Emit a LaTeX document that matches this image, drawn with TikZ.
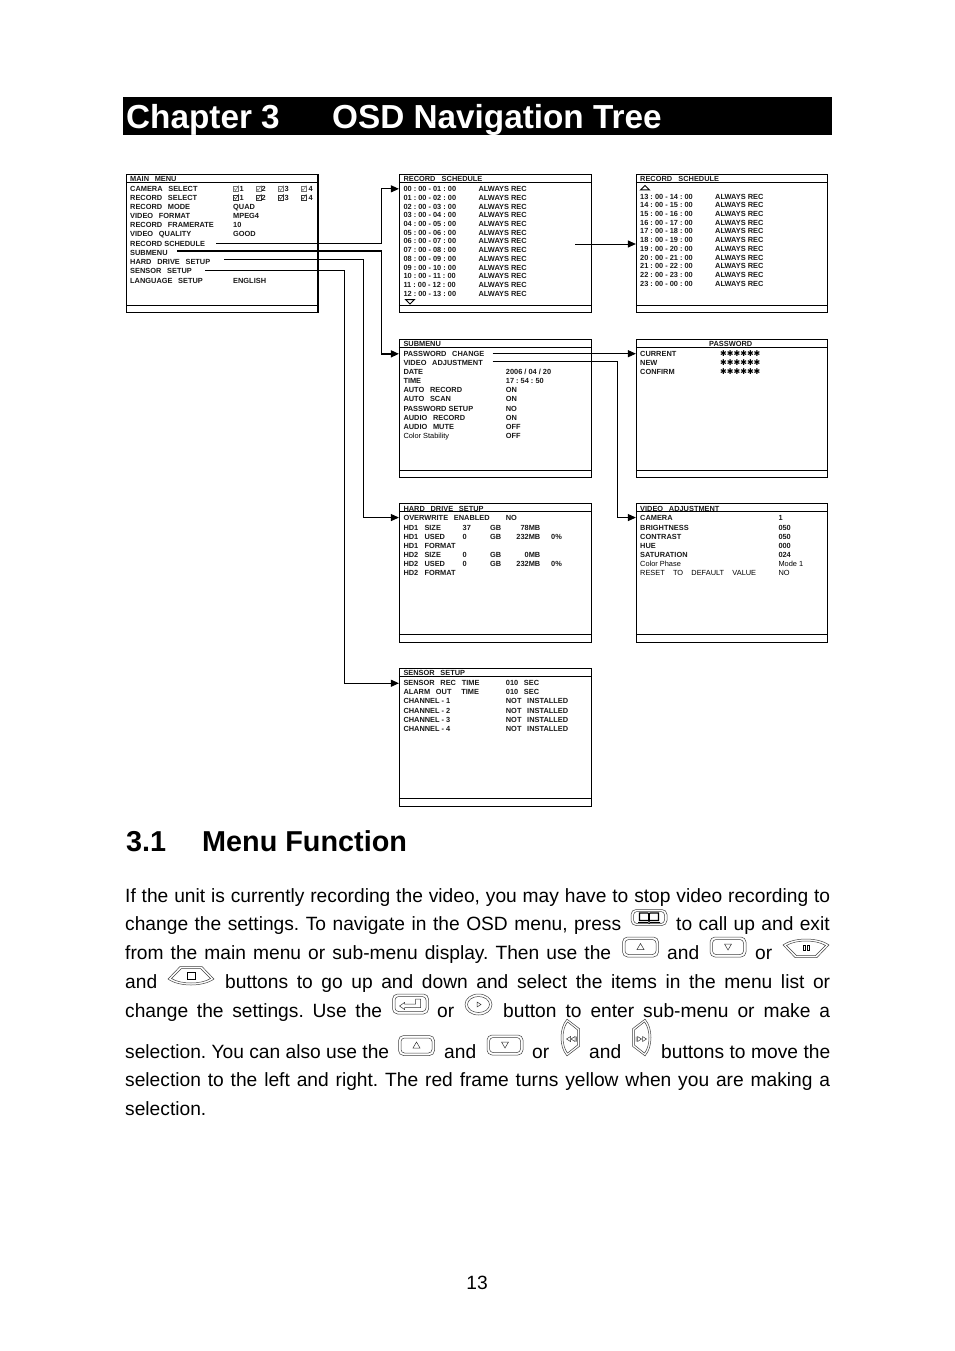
\documentclass[tikz,border=0pt]{standalone}
\usepackage{fontspec}
\setmainfont{Liberation Sans}
\newfontfamily\starfont{DejaVu Sans}
\usetikzlibrary{positioning, arrows.meta, calc}
\frenchspacing
\newcommand{\wgap}{\hspace{5.7pt}}
\tikzset{
  menubox/.style   = {rectangle, draw=black, line width=0.9pt, anchor=north west, inner sep=0pt,
                      minimum width=192pt, minimum height=138pt},
  menurule/.style  = {line width=0.9pt, draw=black},
  menutext/.style  = {anchor=base west, inner sep=0pt, font=\fontsize{7.4}{8}\selectfont\bfseries, text=black!90},
  menulight/.style = {anchor=base west, inner sep=0pt, font=\fontsize{7.4}{8}\selectfont, text=black},
  starrow/.style   = {anchor=base west, inner sep=0pt, font=\fontsize{8}{8}\selectfont\starfont},
  link/.style      = {line width=1pt, -{Triangle[length=8pt, width=7pt]}, draw=black},
  trunk/.style     = {line width=1.5pt, -{Triangle[length=8pt, width=7pt]}, draw=black},
  chapterbar/.style = {rectangle, fill=black, anchor=north west, inner sep=0pt,
                      minimum width=709pt, minimum height=38pt},
  chapterhead/.style = {anchor=base west, inner sep=0pt, text=white, font=\fontsize{33.3}{36}\selectfont\bfseries},
  sectionhead/.style = {anchor=base west, inner sep=0pt, font=\fontsize{28.8}{32}\selectfont\bfseries},
  bodyline/.style  = {anchor=base west, inner sep=0pt, font=\fontsize{19.2}{24}\selectfont},
  iconline/.style  = {draw=black!75, line width=0.5pt},
  glyph/.style     = {draw=black!80, line width=0.5pt},
  scrollmark/.style = {draw=black, line width=1pt},
  % key pictures
  keyframe/.pic    = {
    \draw[iconline, rounded corners=5pt] (-18,-10) rectangle (18,10);
    \draw[iconline, rounded corners=3.5pt] (-15.5,-7.5) rectangle (15.5,7.5);},
  keyup/.pic       = {\pic {keyframe}; \draw[glyph] (-3.5,2.5) -- (3.5,2.5) -- (0,-3.5) -- cycle;},
  keydown/.pic     = {\pic {keyframe}; \draw[glyph] (-3.5,-3) -- (3.5,-3) -- (0,3) -- cycle;},
  keybook/.pic     = {\pic[yscale=0.8] {keyframe};
    \draw[black, line width=1.1pt] (-9.5,-4.5) -- (-1,-4.5) -- (-0.3,-3.5) -- (-0.3,3.5) -- (-1,3) -- (-9.5,3) -- cycle;
    \draw[black, line width=1.1pt] (9.5,-4.5) -- (1,-4.5) -- (0.3,-3.5) -- (0.3,3.5) -- (1,3) -- (9.5,3) -- cycle;
    \draw[black, line width=0.7pt] (-11,5) -- (-1,5) -- (0,6) -- (1,5) -- (11,5);},
  keyenter/.pic    = {\pic {keyframe};
    \draw[glyph] (-11,2) -- (-6,-1.5) -- (-6,0) -- (5,0) -- (5,-5) -- (10,-5) -- (10,3.5) -- (-6,3.5) -- (-6,5.5) -- cycle;},
  keyround/.pic    = {
    \draw[iconline] (0,0) ellipse (13.5 and 10.5);
    \draw[iconline] (0,0) ellipse (11 and 8);
    \draw[glyph] (-1.5,-2.5) -- (2.5,0) -- (-1.5,2.5) -- cycle;},
  keywing/.pic     = {
    \draw[iconline] (-23,-3) .. controls (-12,-11) and (12,-11) .. (23,-3) -- (11,9.5) -- (-11,9.5) -- cycle;
    \draw[iconline] (-19.5,-2.5) .. controls (-10,-8.5) and (10,-8.5) .. (19.5,-2.5) -- (9.5,7.5) -- (-9.5,7.5) -- cycle;},
  tickbox/.pic     = {
    \draw[line width=0.45pt] (0,-2.5) rectangle (5,2.5);
    \draw[line width=0.5pt] (0.8,-0.2) -- (2,1.7) -- (5.4,-3.4);},
}
% menu row: name, x, row centre, text
\newcommand{\menurow}[5][menutext]{\node[#1] (#2) at (#3,#4+3.1) {#5};}
% body text piece: name, x, baseline, width, text
\newcommand{\bodypiece}[5]{\node[bodyline] (#1) at (#2,#3) {\hbox to #4pt{#5}};}

\begin{document}
\begin{tikzpicture}[x=1pt, y=-1pt]
\useasboundingbox (0,0) rectangle (954,1351);
\fill[white] (0,0) rectangle (954,1351);

% =============== CHAPTER BAR ===============
\node[chapterbar] (chapter) at (123,97) {};
\node[chapterhead] (chapternum) at (126,128.5) {Chapter 3};
\node[chapterhead] (chaptertitle) at (332,128.5) {OSD Navigation Tree};

% =============== MENU FRAMES ===============
\node[menubox, minimum width=191pt] (mainmenu) at (126.2,174.3) {};
\node[menubox] (schedone) at (398.9,174.3) {};
\node[menubox, minimum width=191pt] (schedtwo) at (635.9,174.3) {};
\node[menubox] (submenu) at (398.9,339.3) {};
\node[menubox, minimum width=191pt] (password) at (635.9,339.3) {};
\node[menubox, minimum height=138.5pt] (harddrive) at (398.9,503) {};
\node[menubox, minimum width=191pt, minimum height=138.5pt] (videoadj) at (635.9,503) {};
\node[menubox] (sensor) at (398.9,668) {};
\foreach \b in {mainmenu,schedone,schedtwo,submenu,password,harddrive,videoadj,sensor} {
  \draw[menurule] ([yshift=-8pt]\b.north west) -- ([yshift=-8pt]\b.north east);
  \draw[menurule] ([yshift=8pt]\b.south west) -- ([yshift=8pt]\b.south east);
}
\draw[line width=1.6pt] (mainmenu.north east) -- (mainmenu.south east);

% =============== MAIN MENU ===============
\menurow{maintitle}{130}{178.3}{MAIN\wgap MENU}
\foreach \y/\t [count=\n] in {188.3/CAMERA\wgap SELECT, 197/RECORD\wgap SELECT, 206/RECORD\wgap MODE, 215/VIDEO\wgap FORMAT,
  224.3/RECORD\wgap FRAMERATE, 233.3/VIDEO\wgap QUALITY, 243/RECORD SCHEDULE, 252/SUBMENU,
  261/HARD\wgap DRIVE\wgap SETUP, 270/SENSOR\wgap SETUP, 280.3/LANGUAGE\wgap SETUP} {
  \menurow{mainrow\n}{130}{\y}{\t}
}
\foreach \y/\t [count=\n] in {206/QUAD, 215/MPEG4, 224.3/10, 233.3/GOOD, 280.3/ENGLISH} {
  \menurow{mainval\n}{233}{\y}{\t}
}
\foreach \x/\d/\t [count=\n] in {233.5/239.5/1, 256/261.5/2, 278.5/284.5/3, 301/308.5/4} {
  \pic[draw=black!55] at (\x,188.8) {tickbox};
  \menurow{camtick\n}{\d}{188.3}{\t}
  \pic[draw=black!80] at (\x,197.5) {tickbox};
  \menurow{rectick\n}{\d}{197}{\t}
}

% =============== RECORD SCHEDULE, FIRST PAGE ===============
\menurow{schedonetitle}{403.3}{178}{RECORD~~~SCHEDULE}
\foreach \y/\t [count=\n] in {188.3/00 : 00 - 01 : 00, 197.3/01 : 00 - 02 : 00, 206/02 : 00 - 03 : 00,
  214/03 : 00 - 04 : 00, 223.3/04 : 00 - 05 : 00, 232/05 : 00 - 06 : 00, 240.7/06 : 00 - 07 : 00,
  249.3/07 : 00 - 08 : 00, 258.3/08 : 00 - 09 : 00, 267/09 : 00 - 10 : 00, 275.3/10 : 00 - 11 : 00,
  284/11 : 00 - 12 : 00, 293/12 : 00 - 13 : 00} {
  \menurow{schedonetime\n}{403.3}{\y}{\t}
  \menurow{schedonerec\n}{478.3}{\y}{ALWAYS REC}
}
\draw[scrollmark] (405.5,299.5) -- (414.5,299.5) -- (410,304) -- cycle;

% =============== RECORD SCHEDULE, SECOND PAGE ===============
\menurow{schedtwotitle}{640}{178}{RECORD~~~SCHEDULE}
\draw[scrollmark] (640.5,190) -- (649.5,190) -- (645,185.5) -- cycle;
\foreach \y/\t [count=\n] in {196/13 : 00 - 14 : 00, 204.3/14 : 00 - 15 : 00, 213.3/15 : 00 - 16 : 00,
  222.3/16 : 00 - 17 : 00, 230.3/17 : 00 - 18 : 00, 239.3/18 : 00 - 19 : 00, 248.3/19 : 00 - 20 : 00,
  257.3/20 : 00 - 21 : 00, 265.3/21 : 00 - 22 : 00, 274/22 : 00 - 23 : 00, 283/23 : 00 - 00 : 00} {
  \menurow{schedtwotime\n}{640}{\y}{\t}
  \menurow{schedtworec\n}{715}{\y}{ALWAYS REC}
}

% =============== SUBMENU ===============
\menurow{subtitle}{403.3}{343}{SUBMENU}
\foreach \y/\t [count=\n] in {353.3/PASSWORD\wgap CHANGE, 362.3/VIDEO\wgap ADJUSTMENT, 371.3/DATE, 380.3/TIME,
  389.3/AUTO\wgap RECORD, 398.3/AUTO\wgap SCAN, 408/PASSWORD SETUP, 417/AUDIO\wgap RECORD, 426.3/AUDIO\wgap MUTE} {
  \menurow{subrow\n}{403.3}{\y}{\t}
}
\menurow[menulight]{subrow10}{403.3}{435.7}{Color Stability}
\foreach \y/\t [count=\n] in {371.3/{2006 / 04 / 20}, 380.3/17 : 54 : 50, 389.3/ON, 398.3/ON, 408/NO,
  417/ON, 426.3/OFF, 435.7/OFF} {
  \menurow{subval\n}{505.7}{\y}{\t}
}

% =============== PASSWORD ===============
\node[menutext, anchor=base] (passtitle) at (730.7,346) {PASSWORD};
\foreach \y/\t [count=\n] in {353.3/CURRENT, 362.3/NEW, 371.3/CONFIRM} {
  \menurow{passrow\n}{640}{\y}{\t}
  \menurow[starrow]{passval\n}{720}{\y+0.5}{✱✱✱✱✱✱}
}

% =============== HARD DRIVE SETUP ===============
\menurow{hardtitle}{403.3}{508}{HARD\wgap DRIVE\wgap SETUP}
\menurow{overwrite}{403.3}{517}{OVERWRITE\wgap ENABLED}
\menurow{overwriteval}{505.7}{517}{NO}
\foreach \y/\a/\b [count=\n] in {527.3/HD1/SIZE, 536.3/HD1/USED, 545.3/HD1/FORMAT,
  554.3/HD2/SIZE, 563.3/HD2/USED, 572.3/HD2/FORMAT} {
  \menurow{hardunit\n}{403.3}{\y}{\a}
  \menurow{hardrow\n}{424.3}{\y}{\b}
}
\foreach \y/\a/\b [count=\n] in {527.3/37/78MB, 536.3/0/232MB, 554.3/0/0MB, 563.3/0/232MB} {
  \menurow{hardgb\n}{462.5}{\y}{\a}
  \menurow{hardunitgb\n}{490}{\y}{GB}
  \node[menutext, anchor=base east] (hardmb\n) at (540.5,\y+3.1) {\b};
}
\menurow{hardpct1}{551}{536.3}{0\%}
\menurow{hardpct2}{551}{563.3}{0\%}

% =============== VIDEO ADJUSTMENT ===============
\menurow{videotitle}{640}{508}{VIDEO\wgap ADJUSTMENT}
\foreach \y/\t/\v [count=\n] in {517/CAMERA/1, 527/BRIGHTNESS/050, 536/CONTRAST/050,
  545.5/HUE/000, 554.5/SATURATION/024} {
  \menurow{videorow\n}{640}{\y}{\t}
  \menurow{videoval\n}{778.3}{\y}{\v}
}
\menurow[menulight]{videorow6}{640}{563.5}{Color Phase}
\menurow[menulight]{videoval6}{778.3}{563.5}{Mode 1}
\menurow[menulight]{videorow7}{640}{572.5}{RESET~~~~TO~~~~DEFAULT~~~~VALUE}
\menurow[menulight]{videoval7}{778.3}{572.5}{NO}

% =============== SENSOR SETUP ===============
\menurow{sensortitle}{403.3}{672}{SENSOR\wgap SETUP}
\foreach \y/\t/\v [count=\n] in {682.7/SENSOR\wgap REC\wgap TIME/010\wgap SEC, 691.3/ALARM\wgap OUT\wgap~~TIME/010\wgap SEC,
  700.7/CHANNEL - 1/NOT\wgap INSTALLED, 710/CHANNEL - 2/NOT\wgap INSTALLED,
  719.3/CHANNEL - 3/NOT\wgap INSTALLED, 728.3/CHANNEL - 4/NOT\wgap INSTALLED} {
  \menurow{sensorrow\n}{403.3}{\y}{\t}
  \menurow{sensorval\n}{505.7}{\y}{\v}
}

% =============== CONNECTORS ===============
\coordinate (schedfrom) at (216,243);
\coordinate (schedturn) at (381.5,220);
\coordinate (subfrom) at (177,251);
\coordinate (subturn) at (381.5,300);
\coordinate (hardfrom) at (224,259.5);
\coordinate (hardturn) at (363.5,400);
\coordinate (sensorfrom) at (205,270);
\coordinate (sensorturn) at (344.5,500);
\coordinate (nextfrom) at (575,244);
\coordinate (passfrom) at (492.7,353.7);
\coordinate (videofrom) at (492.7,361.7);
\coordinate (videoturn) at (617.5,450);
\draw[link] (schedfrom) -| (schedturn) |- (schedone.west |- schedonetime1.west);
\draw[trunk] (subfrom) -| (subturn) |- (submenu.west |- subrow1.west);
\draw[link] (hardfrom) -| (hardturn) |- (harddrive.west |- overwrite.west);
\draw[link] (sensorfrom) -| (sensorturn) |- (sensor.west |- sensorrow1.west);
\draw[link] (nextfrom) -- (schedtwo.west |- nextfrom);
\draw[link] (passfrom) -- (password.west |- passfrom);
\draw[link] (videofrom) -| (videoturn) |- (videoadj.west |- videorow1.west);

% =============== SECTION AND BODY TEXT ===============
\node[sectionhead] (secnum) at (126,851.5) {3.1};
\node[sectionhead] (sectitle) at (202,851.5) {Menu Function};

\bodypiece{lineone}{125}{902}{705}{If the unit is currently recording the video, you may have to stop video recording to}
\bodypiece{linetwoa}{125}{930}{496}{change the settings. To navigate in the OSD menu, press}
\pic at (649,917.5) {keybook};
\bodypiece{linetwob}{676}{930}{153.5}{to call up and exit}
\bodypiece{linethreea}{125}{959}{486}{from the main menu or sub-menu display. Then use the}
\pic at (640.5,947) {keyup};
\bodypiece{linethreeb}{667}{959}{33.5}{and}
\pic at (728,947) {keydown};
\bodypiece{linethreec}{755}{959}{18}{or}
\pic at (806,948) {keywing};
\draw[black, line width=0.7pt] (803,945) rectangle (805,950.5) (807,945) rectangle (809,950.5);
\bodypiece{linefoura}{125}{988}{33}{and}
\pic[yscale=-1] at (191,976) {keywing};
\draw[black, line width=0.7pt] (187,972.5) rectangle (195,979);
\bodypiece{linefourb}{225}{988}{605}{buttons to go up and down and select the items in the menu list or}
\bodypiece{linefivea}{125}{1017}{257}{change the settings. Use the}
\pic at (410.5,1004) {keyenter};
\bodypiece{linefiveb}{437}{1017}{18}{or}
\pic at (478.5,1004.5) {keyround};
\bodypiece{linefivec}{503}{1017}{327}{button to enter sub-menu or make a}
\bodypiece{linesixa}{125}{1058}{264}{selection. You can also use the}
\pic at (416.5,1045.5) {keyup};
\bodypiece{linesixb}{444}{1058}{33.5}{and}
\pic at (505,1045) {keydown};
\bodypiece{linesixc}{532}{1058}{18}{or}
\pic[rotate=90, xscale=0.8] at (570,1037.5) {keywing};
\draw[glyph] (570.5,1036.5) -- (566.5,1039) -- (570.5,1041.5) -- cycle (575,1036.5) -- (571,1039) -- (575,1041.5) -- cycle (576.5,1036.5) -- (576.5,1041.5);
\bodypiece{linesixd}{589}{1058}{33}{and}
\pic[rotate=-90, xscale=0.8] at (642,1037.5) {keywing};
\draw[glyph] (637.5,1036.5) -- (641.5,1039) -- (637.5,1041.5) -- cycle (642.5,1036.5) -- (646.5,1039) -- (642.5,1041.5) -- cycle (636,1036.5) -- (636,1041.5);
\bodypiece{linesixe}{661}{1058}{169}{buttons to move the}
\bodypiece{lineseven}{125}{1086}{705}{selection to the left and right. The red frame turns yellow when you are making a}
\node[bodyline] (lineeight) at (125,1115) {selection.};

\node[bodyline, anchor=base] (pagenum) at (477,1289) {13};

\end{tikzpicture}
\end{document}
